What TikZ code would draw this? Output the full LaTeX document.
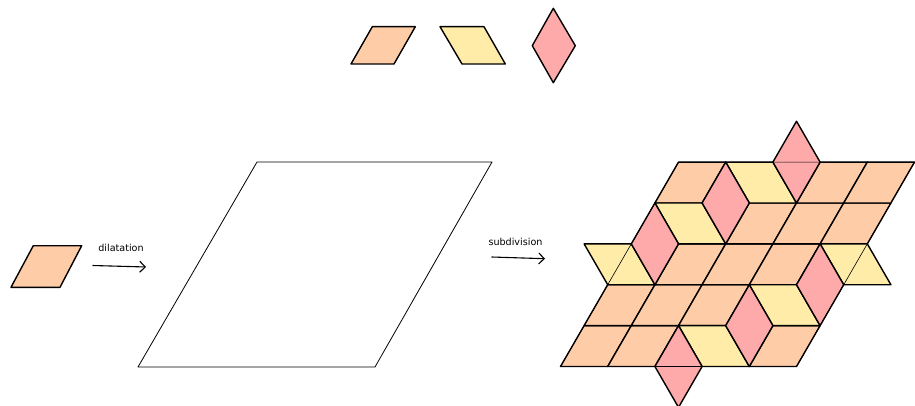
\documentclass[tikz,border=0pt]{standalone}
\usepackage{fontspec}
\setmainfont{DejaVu Sans}
\usetikzlibrary{arrows.meta}
\definecolor{tileor}{HTML}{FFCCA8}
\definecolor{tileye}{HTML}{FFECA8}
\definecolor{tilepk}{HTML}{FFAAAA}
\begin{document}
\begin{tikzpicture}[x=1pt,y=-1pt,
  tile/.style={draw=black,line width=1.4pt,line join=round},
  ortile/.style={tile,fill=tileor},
  yetile/.style={tile,fill=tileye},
  pktile/.style={tile,fill=tilepk},
  arr/.style={line width=1.1pt,-{Straight Barb[length=5.5pt,width=11pt,line width=1.1pt]}},
  lbl/.style={font=\fontsize{9.6}{11}\selectfont,inner sep=0pt}]
\useasboundingbox (0,0) rectangle (915,406);

% prototiles
\draw[ortile] (351,64) -- (394,64) -- (415.3,26.7) -- (372.3,26.7) -- cycle;
\draw[yetile] (440,26.7) -- (484,26.7) -- (505.3,64) -- (462,64) -- cycle;
\draw[pktile] (553.3,8.3) -- (575.3,45.7) -- (553.3,82.7) -- (532.3,45.7) -- cycle;

% small tile
\draw[ortile] (11,287.3) -- (60,287.3) -- (81.7,245.7) -- (33.3,245.7) -- cycle;

% dilatation arrow
\node[lbl] (dil) at (121,247.5) {dilatation};
\coordinate (d1) at (92.5,265.5);
\coordinate (d2) at (146,267);
\draw[arr] (d1) -- (d2);

% big rhombus
\draw[line width=0.8pt,line join=round] (138,367) -- (375,367) -- (492,162) -- (257,162) -- cycle;

% subdivision arrow
\node[lbl] (sub) at (515.5,241.5) {subdivision};
\coordinate (s1) at (491.5,257);
\coordinate (s2) at (545,258.7);
\draw[arr] (s1) -- (s2);

% tiling
\begin{scope}[shift={(560.5,366.5)},x={(47.2pt,0pt)},y={(23.6pt,40.88pt)}]
\foreach \i/\j in {0/0,1/0,4/0,0/1,1/1,2/1,1/2,2/2,3/2,2/3,3/3,4/3,0/4,3/4,4/4}
  \draw[ortile] (\i,\j) -- ++(1,0) -- ++(0,1) -- ++(-1,0) -- cycle;
\foreach \i/\j in {3/0,4/1,0/2,5/2,1/3,2/4}
  \draw[yetile] (\i,\j) -- ++(1,0) -- ++(-1,1) -- ++(-1,0) -- cycle;
\foreach \i/\j in {3/-1,4/0,5/1,1/2,2/3,3/4}
  \draw[pktile] (\i,\j) -- ++(0,1) -- ++(-1,1) -- ++(0,-1) -- cycle;
\draw[line width=0.6pt] (0,0) -- (5,0) -- (5,5) -- (0,5) -- cycle;
\end{scope}
\end{tikzpicture}
\end{document}
